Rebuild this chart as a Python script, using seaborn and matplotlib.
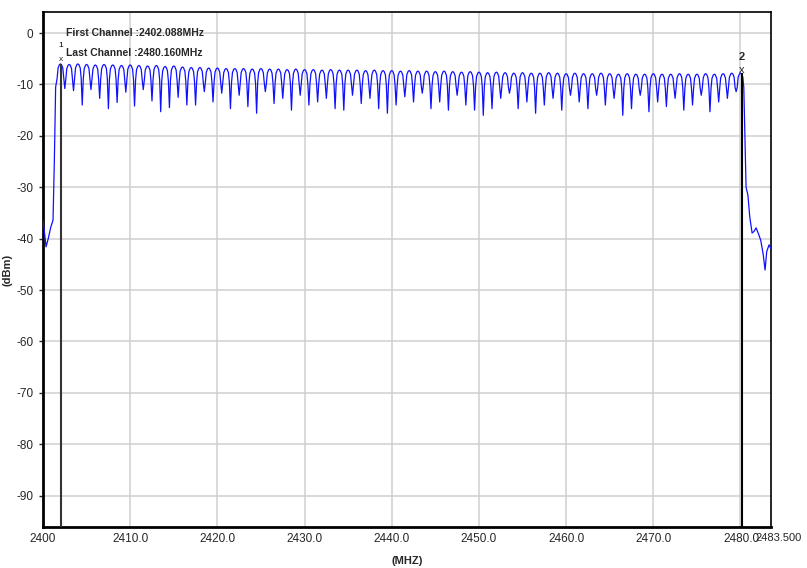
import numpy as np
import pandas as pd
import matplotlib
matplotlib.use("Agg")
import matplotlib.pyplot as plt
import matplotlib.transforms as mtransforms
import seaborn as sns

# ---------------- data ----------------
channel_start = 2402.0          # first channel centre (MHz)
marker_freqs = [2402.088, 2480.160]
marker_labels = ["1", "2"]

# hump top level of each of the 79 channels (dBm)
peak_levels = [
    -6.0, -6.1, -6.0, -6.1, -6.2, -6.1, -6.2, -6.3, -6.2, -6.3,
    -6.4, -6.3, -6.5, -6.4, -6.6, -6.7, -6.7, -6.8, -6.8, -6.9,
    -6.9, -6.9, -7.0, -6.9, -7.0, -7.0, -7.1, -7.0, -7.1, -7.1,
    -7.2, -7.1, -7.2, -7.2, -7.2, -7.3, -7.2, -7.3, -7.3, -7.4,
    -7.3, -7.4, -7.4, -7.5, -7.4, -7.5, -7.6, -7.5, -7.6, -7.7,
    -7.6, -7.7, -7.8, -7.7, -7.8, -7.8, -7.7, -7.8, -7.9, -7.8,
    -7.9, -7.9, -7.8, -7.9, -8.0, -7.9, -8.0, -8.0, -7.9, -8.0,
    -8.0, -7.9, -8.0, -8.0, -7.9, -8.0, -7.9, -7.8, -7.8,
]

# dip level between consecutive channels (78 values, dBm)
dip_levels = [
    -10.8, -11.2, -14.0, -11.0, -12.7, -14.7, -13.5, -11.5, -14.2, -11.0,
    -13.2, -15.3, -14.5, -12.5, -14.0,
    -14.0, -11.4, -13.4, -11.7, -14.7, -12.1, -14.3, -15.6, -11.4, -13.7,
    -12.7, -15.0, -12.1, -14.0, -13.4,
    -12.7, -14.7, -15.0, -12.1, -13.7, -12.7, -14.7, -15.6, -14.0, -12.4,
    -13.4, -11.7, -14.7, -13.4, -15.0, -12.1,
    -14.0, -15.0, -16.0, -14.7, -12.7, -11.7, -14.7, -13.4, -15.6, -14.0,
    -12.7, -15.0, -12.1, -13.4, -14.7, -12.1,
    -14.0, -12.7, -16.0, -14.7, -12.1, -15.3, -13.4, -14.3, -12.7, -15.0,
    -14.0, -12.1, -15.3, -13.4, -12.7, -11.4,
]

# lower band edge (noise floor before first channel)
left_freq = [2400.0, 2400.15, 2400.35, 2400.6, 2400.9, 2401.15, 2401.3, 2401.45]
left_level = [-36.4, -38.5, -41.6, -40.0, -37.7, -36.4, -25.0, -10.5]

# upper band edge (roll-off after last channel)
right_freq = [2480.5, 2480.64, 2480.85, 2481.06, 2481.33, 2481.55, 2481.79,
              2482.05, 2482.32, 2482.6, 2482.82, 2483.01, 2483.28, 2483.5]
right_level = [-20.0, -30.0, -31.5, -35.7, -38.9, -38.6, -37.9,
               -39.0, -40.3, -43.0, -46.1, -42.5, -41.2, -42.0]

y_ticks = [0, -10, -20, -30, -40, -50, -60, -70, -80, -90]
x_ticks = [2400, 2410, 2420, 2430, 2440, 2450, 2460, 2470, 2480, 2483.5]
x_tick_labels = ["2400", "2410.0", "2420.0", "2430.0", "2440.0", "2450.0",
                 "2460.0", "2470.0", "2480.0", "2483.500"]

# ---------------- trace assembly ----------------
hump_offsets = [-0.38, -0.27, -0.12, 0.0, 0.12, 0.27, 0.38]
hump_drops = [2.8, 0.8, 0.15, 0.0, 0.15, 0.8, 2.8]

freqs = list(left_freq)
levels = list(left_level)
for i, pk in enumerate(peak_levels):
    c = channel_start + i
    for off, drop in zip(hump_offsets, hump_drops):
        freqs.append(c + off)
        levels.append(pk - drop)
    if i < len(dip_levels):
        freqs.append(c + 0.5)
        levels.append(dip_levels[i])
freqs += right_freq
levels += right_level

df = pd.DataFrame({"freq": freqs, "level": levels})

# ---------------- plot ----------------
sns.set_style("white")
plt.rcParams["font.family"] = ["Liberation Sans Narrow", "Liberation Sans", "DejaVu Sans"]

fig = plt.figure(figsize=(8.07, 5.68), dpi=100)
ax = fig.add_axes([43 / 807, 1 - 527 / 568, (771 - 43) / 807, (527 - 12) / 568])

ax.set_xlim(2400, 2483.5)
ax.set_ylim(-96.1, 4.1)

for yt in y_ticks:
    ax.axhline(yt, color="#cfcfcf", lw=1.1, zorder=0)
for xt in x_ticks[1:-1]:
    ax.axvline(xt, color="#cfcfcf", lw=1.1, zorder=0)

sns.lineplot(data=df, x="freq", y="level", ax=ax, color="#1010ff", lw=0.9,
             sort=False, estimator=None, zorder=3)

# marker lines
ax.vlines(marker_freqs[0], -96.1, peak_levels[0], color="#333333", lw=1.5, zorder=4)
ax.vlines(marker_freqs[1], -96.1, peak_levels[-1], color="black", lw=1.5, zorder=4)

# marker annotations
ax.text(marker_freqs[0] - 0.1, -2.4, marker_labels[0], fontsize=6, ha="center",
        va="center", color="black", zorder=5)
ax.text(marker_freqs[0], -5.2, "x", fontsize=6, ha="center", va="center", zorder=5)
ax.text(marker_freqs[1], -4.7, marker_labels[1], fontsize=8, fontweight="bold",
        ha="center", va="center", zorder=5)
ax.text(marker_freqs[1], -7.2, "x", fontsize=8, ha="center", va="center", zorder=5)

ax.text(2402.6, 0.0, "First Channel :2402.088MHz", fontsize=7.5, fontweight="bold",
        ha="left", va="center", zorder=5)
ax.text(2402.6, -3.8, "Last Channel :2480.160MHz", fontsize=7.5, fontweight="bold",
        ha="left", va="center", zorder=5)

ax.set_yticks(y_ticks)
ax.set_yticklabels([str(v) for v in y_ticks], fontsize=8.5)
ax.set_xticks(x_ticks)
ax.set_xticklabels(x_tick_labels, fontsize=8.5)
ax.tick_params(axis="y", length=3, width=1, pad=4, left=True)
ax.tick_params(axis="x", length=0, pad=4)

# nudge the two crowded right-hand labels like the reference
xlabels = ax.get_xticklabels()
xlabels[-2].set_transform(xlabels[-2].get_transform() +
                          mtransforms.ScaledTranslation(1 / 100, 0, fig.dpi_scale_trans))
xlabels[-1].set_fontsize(8)
xlabels[-1].set_transform(xlabels[-1].get_transform() +
                          mtransforms.ScaledTranslation(8 / 100, 0, fig.dpi_scale_trans))

ax.set_xlabel("(MHZ)", fontsize=8, fontweight="bold")
ax.set_ylabel("(dBm)", fontsize=8, fontweight="bold")
ax.xaxis.set_label_coords(0.5, -0.057)
ax.yaxis.set_label_coords(-0.042, 0.5)

for side in ["top", "right"]:
    ax.spines[side].set_linewidth(1.2)
    ax.spines[side].set_color("black")
for side in ["bottom", "left"]:
    ax.spines[side].set_linewidth(2.0)
    ax.spines[side].set_color("black")

fig.savefig("out.png", dpi=100)
